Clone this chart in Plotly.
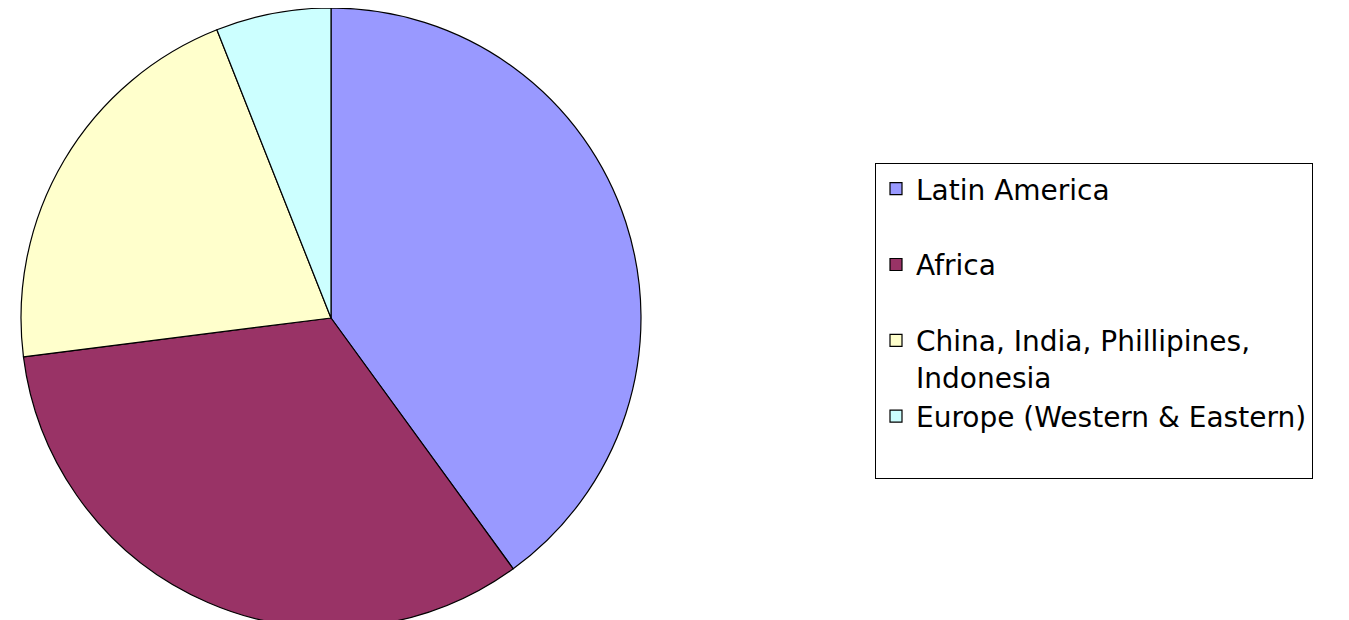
import plotly.graph_objects as go

regions = ["Latin America", "Africa", "China, India, Phillipines, Indonesia", "Europe (Western & Eastern)"]
shares = [40, 33, 21, 6]
colors = ["#9999FF", "#993366", "#FFFFCC", "#CCFFFF"]

# legend text: wrap the long entry, pad others to two lines (Excel-like even spacing)
legend_text = [
    "Latin America<br>&nbsp;",
    "Africa<br>&nbsp;",
    "China, India, Phillipines,<br>Indonesia",
    "Europe (Western & Eastern)<br>&nbsp;",
]

W, H = 1349, 620
OFF = 8          # page body margin
cx, r = 331 - OFF, 310

fig = go.Figure(go.Pie(
    labels=legend_text,
    values=shares,
    sort=False,
    direction="clockwise",
    rotation=0,
    marker=dict(colors=colors, line=dict(color="black", width=1.2)),
    textinfo="none",
    hoverinfo="label+value",
    domain=dict(x=[(cx - r) / W, (cx + r) / W], y=[0, 1]),
))

fig.update_layout(
    width=W, height=H,
    margin=dict(l=0, r=0, t=0, b=0),
    paper_bgcolor="white",
    plot_bgcolor="white",
    font=dict(family="DejaVu Sans, Verdana, sans-serif", color="black"),
    legend=dict(
        x=(875 - OFF) / W, xanchor="left",
        y=1 - (163 - OFF) / H, yanchor="top",
        bordercolor="black", borderwidth=1,
        bgcolor="white",
        font=dict(size=28, family="DejaVu Sans, Verdana, sans-serif", color="black"),
        valign="top",
        traceorder="normal",
    ),
    showlegend=True,
)

fig.write_html("out.html")
